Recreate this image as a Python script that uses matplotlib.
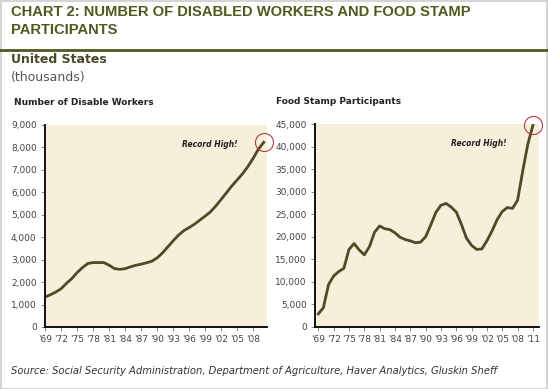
import matplotlib
matplotlib.use("Agg")
import matplotlib.pyplot as plt
from matplotlib.patches import Rectangle
from matplotlib.ticker import FuncFormatter

# Disabled workers (thousands), 1969-2010
dis_years = list(range(1969, 2011))
dis_values = [1340, 1440, 1560, 1710, 1950, 2160, 2430, 2650, 2830, 2870,
              2870, 2870, 2750, 2600, 2570, 2600, 2680, 2750, 2800, 2860,
              2930, 3080, 3300, 3570, 3840, 4090, 4290, 4430, 4580, 4760,
              4940, 5130, 5390, 5680, 5980, 6280, 6550, 6820, 7140, 7510,
              7920, 8230]

# Food stamp participants (thousands), 1969-2011
fs_years = list(range(1969, 2012))
fs_values = [2900, 4300, 9400, 11300, 12300, 13000, 17200, 18500, 17100, 16000,
             17800, 21000, 22400, 21800, 21600, 20900, 19900, 19400, 19100, 18700,
             18800, 20000, 22600, 25400, 27000, 27400, 26600, 25500, 22800, 19700,
             18100, 17200, 17300, 19100, 21300, 23800, 25600, 26500, 26300, 28100,
             34500, 40500, 44700]

dis_ticks = list(range(1969, 2009, 3))
fs_ticks = list(range(1969, 2012, 3))

OLIVE = "#4f5a1f"
LINE = "#4d4a26"
PANEL = "#f6efdb"
TICKTXT = "#444444"

fig = plt.figure(figsize=(5.48, 3.89), dpi=100)
fig.patches.append(Rectangle((0.001, 0.001), 0.997, 0.997, transform=fig.transFigure,
                             fill=False, edgecolor="#cccccc", linewidth=1.2))

fig.text(0.02, 0.987, "CHART 2: NUMBER OF DISABLED WORKERS AND FOOD STAMP\nPARTICIPANTS",
         ha="left", va="top", fontsize=10.6, fontweight="bold", color=OLIVE,
         family=["Liberation Sans", "DejaVu Sans"], linespacing=1.4)
fig.add_artist(plt.Line2D([0, 1], [0.8715, 0.8715], transform=fig.transFigure,
                          color=OLIVE, linewidth=2))
fig.text(0.02, 0.863, "United States", ha="left", va="top", fontsize=9,
         fontweight="bold", color="#4a4a2a")
fig.text(0.02, 0.818, "(thousands)", ha="left", va="top", fontsize=9, color="#555555")
fig.text(0.025, 0.736, "Number of Disable Workers", ha="left", va="center",
         fontsize=6.5, fontweight="bold", color="#222222")
fig.text(0.503, 0.739, "Food Stamp Participants", ha="left", va="center",
         fontsize=6.5, fontweight="bold", color="#222222")
fig.text(0.02, 0.046, "Source: Social Security Administration, Department of Agriculture, "
         "Haver Analytics, Gluskin Sheff", ha="left", va="center", fontsize=7.2,
         style="italic", color="#333333")


def style_axis(ax, years, values, ticks, xlim, ymax, ystep, note_x):
    ax.set_facecolor(PANEL)
    ax.plot(years, values, color=LINE, linewidth=2, solid_joinstyle="round")
    ax.plot(years[-1], values[-1], marker="o", markersize=13, markerfacecolor="none",
            markeredgecolor="#b83a3a", markeredgewidth=0.8, clip_on=False)
    ax.text(note_x, 0.905, "Record High!", transform=ax.transAxes, ha="right",
            va="center", fontsize=5.5, fontweight="bold", style="italic", color="#222222")
    ax.set_xlim(*xlim)
    ax.set_ylim(0, ymax)
    ax.set_yticks(range(0, ymax + 1, ystep))
    ax.yaxis.set_major_formatter(FuncFormatter(lambda v, p: f"{int(v):,}"))
    ax.set_xticks(ticks)
    ax.set_xticklabels([f"'{y % 100:02d}" for y in ticks])
    for s in ("top", "right"):
        ax.spines[s].set_visible(False)
    for s in ("left", "bottom"):
        ax.spines[s].set_color("#111111")
        ax.spines[s].set_linewidth(1.4)
    ax.tick_params(axis="both", labelsize=6.5, labelcolor=TICKTXT, color="#888888",
                   length=3, width=0.7, direction="out", pad=3)


ax1 = fig.add_axes([0.0821, 0.1594, 0.405, 0.5193])
style_axis(ax1, dis_years, dis_values, dis_ticks, (1968.95, 2010.6), 9000, 1000, 0.87)

ax2 = fig.add_axes([0.5748, 0.1594, 0.4088, 0.5216])
style_axis(ax2, fs_years, fs_values, fs_ticks, (1968.35, 2012.2), 45000, 5000, 0.855)

fig.savefig("out.png", dpi=100)
